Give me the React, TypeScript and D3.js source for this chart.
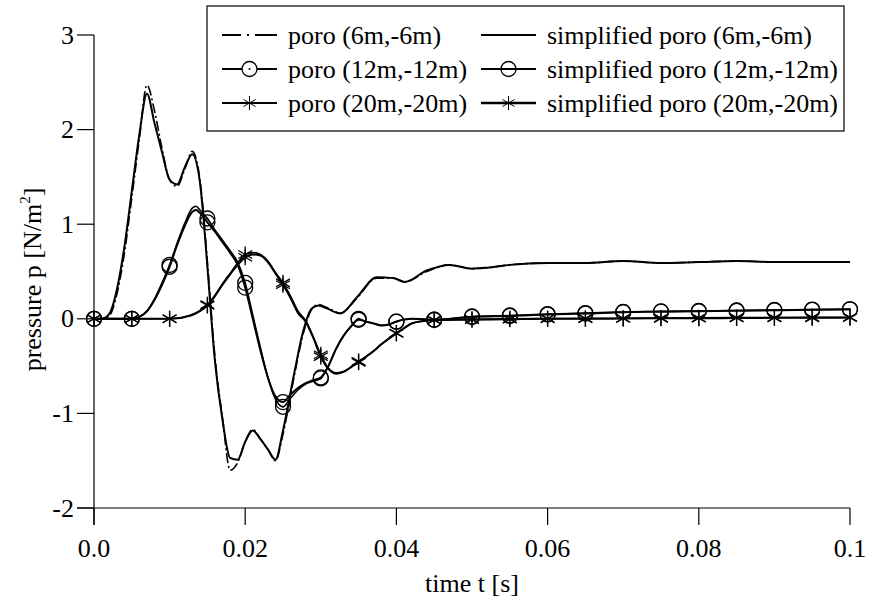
import React from "react";
import * as d3 from "d3";

// ---------- data ----------
const xTicks = [0, 0.02, 0.04, 0.06, 0.08, 0.1];
const xTickLabels = ["0.0", "0.02", "0.04", "0.06", "0.08", "0.1"];
const yTicks = [-2, -1, 0, 1, 2, 3];
const yTickLabels = ["-2", "-1", "0", "1", "2", "3"];

const t6 = [0, 0.001, 0.002, 0.003, 0.004, 0.005, 0.006, 0.007, 0.008, 0.009, 0.010, 0.011, 0.012, 0.013, 0.014, 0.0145,
  0.015, 0.016, 0.017, 0.018, 0.019, 0.020, 0.021, 0.022, 0.023, 0.024, 0.025,
  0.0264, 0.0277, 0.0288, 0.0297, 0.0308, 0.0326, 0.0348, 0.0374, 0.0396, 0.0411, 0.044, 0.047,
  0.050, 0.052, 0.055, 0.060, 0.065, 0.070, 0.075, 0.080, 0.085, 0.090, 0.095, 0.100];
const simplified6 = [0, 0.0, 0.05, 0.3, 0.75, 1.35, 1.95, 2.38, 2.07, 1.76, 1.47, 1.42, 1.6, 1.74, 1.45, 1.05,
  0.55, -0.45, -1.07, -1.47, -1.49, -1.3, -1.18, -1.27, -1.38, -1.49, -1.18,
  -0.61, -0.12, 0.11, 0.14, 0.11, 0.056, 0.23, 0.44, 0.43, 0.39, 0.51, 0.57,
  0.53, 0.54, 0.57, 0.59, 0.59, 0.61, 0.59, 0.60, 0.61, 0.60, 0.60, 0.60];
const poro6 = [0, 0.0, 0.03, 0.25, 0.68, 1.28, 1.9, 2.47, 2.2, 1.8, 1.47, 1.40, 1.58, 1.77, 1.48, 1.1,
  0.6, -0.4, -1.05, -1.6, -1.52, -1.3, -1.17, -1.27, -1.38, -1.5, -1.22,
  -0.64, -0.15, 0.1, 0.15, 0.12, 0.06, 0.22, 0.43, 0.43, 0.39, 0.5, 0.57,
  0.53, 0.54, 0.57, 0.59, 0.59, 0.61, 0.59, 0.60, 0.61, 0.60, 0.60, 0.60];

const t12 = [0, 0.005, 0.006, 0.007, 0.008, 0.009, 0.010, 0.011, 0.012, 0.013, 0.0135, 0.014,
  0.015, 0.016, 0.017, 0.018, 0.019, 0.020, 0.021, 0.022, 0.023, 0.024, 0.025, 0.026, 0.027, 0.028, 0.029,
  0.030, 0.031, 0.032, 0.033, 0.034, 0.035, 0.036, 0.037, 0.038, 0.039, 0.040, 0.042, 0.045,
  0.050, 0.055, 0.060, 0.065, 0.070, 0.075, 0.080, 0.085, 0.090, 0.095, 0.100];
const simplified12 = [0, 0, 0.02, 0.08, 0.2, 0.36, 0.55, 0.78, 0.98, 1.13, 1.15, 1.12,
  1.02, 0.92, 0.81, 0.70, 0.57, 0.33, 0.0, -0.33, -0.62, -0.82, -0.88, -0.80, -0.73, -0.68, -0.65,
  -0.62, -0.50, -0.32, -0.18, -0.08, -0.01, -0.03, -0.05, -0.07, -0.06, -0.03, 0.0, -0.01,
  0.02, 0.03, 0.045, 0.055, 0.07, 0.075, 0.08, 0.085, 0.09, 0.095, 0.1];
const poro12 = [0, 0, 0.02, 0.08, 0.21, 0.38, 0.57, 0.8, 1.01, 1.17, 1.19, 1.15,
  1.06, 0.94, 0.83, 0.72, 0.6, 0.38, 0.04, -0.3, -0.62, -0.85, -0.93, -0.84, -0.75, -0.69, -0.66,
  -0.63, -0.5, -0.32, -0.18, -0.08, -0.0, -0.03, -0.05, -0.07, -0.06, -0.03, 0.0, -0.01,
  0.025, 0.035, 0.05, 0.06, 0.072, 0.078, 0.083, 0.088, 0.093, 0.097, 0.1];

const t20 = [0, 0.005, 0.010, 0.011, 0.012, 0.013, 0.014, 0.015, 0.016, 0.017, 0.018, 0.019, 0.020,
  0.021, 0.022, 0.023, 0.024, 0.025, 0.026, 0.027, 0.028, 0.029, 0.030, 0.031, 0.032, 0.033, 0.034,
  0.035, 0.036, 0.037, 0.038, 0.039, 0.040, 0.041, 0.042, 0.043, 0.045,
  0.050, 0.055, 0.060, 0.065, 0.070, 0.075, 0.080, 0.085, 0.090, 0.095, 0.100];
const simplified20 = [0, 0, 0, 0.005, 0.02, 0.04, 0.08, 0.14, 0.24, 0.36, 0.47, 0.57, 0.65,
  0.68, 0.67, 0.6, 0.48, 0.36, 0.22, 0.06, -0.03, -0.2, -0.40, -0.53, -0.58, -0.56, -0.51,
  -0.46, -0.40, -0.34, -0.27, -0.21, -0.155, -0.10, -0.05, -0.03, -0.015,
  -0.01, -0.005, 0, 0, 0.003, 0.005, 0.006, 0.008, 0.01, 0.01, 0.012];
const poro20 = [0, 0, 0, 0.005, 0.02, 0.045, 0.085, 0.15, 0.25, 0.37, 0.48, 0.59, 0.68,
  0.7, 0.68, 0.61, 0.49, 0.38, 0.24, 0.08, -0.02, -0.19, -0.38, -0.52, -0.57, -0.56, -0.51,
  -0.45, -0.40, -0.34, -0.27, -0.21, -0.15, -0.10, -0.05, -0.03, -0.01,
  -0.005, 0, 0.002, 0.004, 0.006, 0.008, 0.01, 0.012, 0.014, 0.015, 0.016];

const legendLabels = [
  "poro (6m,-6m)", "simplified poro (6m,-6m)",
  "poro (12m,-12m)", "simplified poro (12m,-12m)",
  "poro (20m,-20m)", "simplified poro (20m,-20m)",
];

// ---------- layout ----------
const W = 869, H = 606;
const X0 = 94, X1 = 850, Y0 = 508, Y1 = 35;
const FONT = "Liberation Serif";

type Pt = [number, number];
const zip = (t: number[], v: number[]): Pt[] => t.map((ti, i) => [ti, v[i]]);
const isMarkerT = (t: number) => Math.abs(t / 0.005 - Math.round(t / 0.005)) < 1e-6;

function Circle({ cx, cy, dot, r = 7.5 }: { cx: number; cy: number; dot?: boolean; r?: number }) {
  return (
    <g>
      <circle cx={cx} cy={cy} r={r} fill="none" stroke="#000" strokeWidth={1.3} />
      {dot && <circle cx={cx} cy={cy} r={1} fill="#000" />}
    </g>
  );
}
function Star({ cx, cy, r = 8, w = 1.3 }: { cx: number; cy: number; r?: number; w?: number }) {
  const angs = [90, 30, 150];
  return (
    <g stroke="#000" strokeWidth={w}>
      {angs.map((a) => {
        const dx = r * Math.cos((a * Math.PI) / 180);
        const dy = r * Math.sin((a * Math.PI) / 180);
        return <line key={a} x1={cx - dx} y1={cy - dy} x2={cx + dx} y2={cy + dy} />;
      })}
    </g>
  );
}

export default function App() {
  const x = d3.scaleLinear().domain([0, 0.1]).range([X0, X1]);
  const y = d3.scaleLinear().domain([-2, 3]).range([Y0, Y1]);
  const line = d3
    .line<Pt>()
    .x((d) => x(d[0]))
    .y((d) => y(d[1]))
    .curve(d3.curveMonotoneX);

  const s6 = zip(t6, simplified6), p6 = zip(t6, poro6);
  const s12 = zip(t12, simplified12), p12 = zip(t12, poro12);
  const s20 = zip(t20, simplified20), p20 = zip(t20, poro20);

  const tick = 17;
  const rows = [35, 69, 103];
  const col1 = 222, col2 = 481, sampleW = 55, textGap = 11;

  const legendSample = (idx: number, cx0: number, cy: number) => {
    const mid = cx0 + sampleW / 2;
    if (idx === 0)
      return <line x1={cx0} x2={cx0 + sampleW} y1={cy} y2={cy} stroke="#000" strokeWidth={2} strokeDasharray="19,6,2,6,22" />;
    if (idx === 1)
      return <line x1={cx0} x2={cx0 + sampleW} y1={cy} y2={cy} stroke="#000" strokeWidth={2} />;
    if (idx === 2)
      return (
        <g>
          <line x1={cx0} x2={mid - 7.5} y1={cy} y2={cy} stroke="#000" strokeWidth={2} />
          <line x1={mid + 7.5} x2={cx0 + sampleW} y1={cy} y2={cy} stroke="#000" strokeWidth={2} />
          <Circle cx={mid} cy={cy} dot />
        </g>
      );
    if (idx === 3)
      return (
        <g>
          <line x1={cx0} x2={cx0 + sampleW} y1={cy} y2={cy} stroke="#000" strokeWidth={2} />
          <Circle cx={mid} cy={cy} />
        </g>
      );
    if (idx === 4)
      return (
        <g>
          <line x1={cx0} x2={cx0 + sampleW} y1={cy} y2={cy} stroke="#000" strokeWidth={2.2} />
          <Star cx={mid} cy={cy} r={7} w={1} />
        </g>
      );
    return (
      <g>
        <line x1={cx0} x2={cx0 + sampleW} y1={cy} y2={cy} stroke="#000" strokeWidth={2.6} />
        <Star cx={mid} cy={cy} r={7} w={1} />
      </g>
    );
  };

  return (
    <svg width={W} height={H} style={{ position: "absolute", left: 0, top: 0, background: "#fff" }}>
      <rect x={0} y={0} width={W} height={H} fill="#fff" />
      {/* axes */}
      <g stroke="#000" strokeWidth={1.2}>
        <line x1={X0} x2={X0} y1={Y1} y2={Y0 + tick} />
        <line x1={X0 - tick} x2={X1} y1={Y0} y2={Y0} />
        {yTicks.map((v) => (
          <line key={v} x1={X0 - tick} x2={X0} y1={y(v)} y2={y(v)} />
        ))}
        {xTicks.map((v) => (
          <line key={v} x1={x(v)} x2={x(v)} y1={Y0} y2={Y0 + tick} />
        ))}
      </g>
      <g fill="#000">
        {yTicks.map((v, i) => (
          <text key={v} x={X0 - tick - 3} y={y(v)} dy="0.33em" textAnchor="end" fontFamily={FONT} fontSize={26}>{yTickLabels[i]}</text>
        ))}
        {xTicks.map((v, i) => (
          <text key={v} x={x(v)} y={Y0 + tick + 23} dy="0.33em" textAnchor="middle" fontFamily={FONT} fontSize={26}>{xTickLabels[i]}</text>
        ))}
        <text x={(X0 + X1) / 2} y={583} dy="0.33em" textAnchor="middle" fontFamily={FONT} fontSize={26}>time t [s]</text>
        <text transform={`translate(32,${(Y0 + Y1) / 2 + 8}) rotate(-90)`} textAnchor="middle" dy="0.33em" fontFamily={FONT} fontSize={26}>
          pressure p [N/m<tspan fontSize={15} dy="-11">2</tspan><tspan dy="11">]</tspan>
        </text>
      </g>

      {/* curves */}
      <g fill="none" stroke="#000">
        <path d={line(s6) || ""} strokeWidth={2} />
        <path d={line(p6) || ""} strokeWidth={1.6} strokeDasharray="10,3,2,3" />
        <path d={line(s12) || ""} strokeWidth={2} />
        <path d={line(p12) || ""} strokeWidth={1.6} />
        <path d={line(s20) || ""} strokeWidth={2} />
        <path d={line(p20) || ""} strokeWidth={1.6} />
      </g>
      {/* markers */}
      {p12.filter((d) => isMarkerT(d[0])).map((d, i) => (
        <Circle key={"pc" + i} cx={x(d[0])} cy={y(d[1])} dot />
      ))}
      {s12.filter((d) => isMarkerT(d[0])).map((d, i) => (
        <Circle key={"sc" + i} cx={x(d[0])} cy={y(d[1])} />
      ))}
      {p20.filter((d) => isMarkerT(d[0])).map((d, i) => (
        <Star key={"ps" + i} cx={x(d[0])} cy={y(d[1])} />
      ))}
      {s20.filter((d) => isMarkerT(d[0])).map((d, i) => (
        <Star key={"ss" + i} cx={x(d[0])} cy={y(d[1])} />
      ))}

      {/* legend */}
      <rect x={207} y={6} width={637} height={125} fill="#fff" stroke="#000" strokeWidth={1.2} />
      {legendLabels.map((lab, i) => {
        const r = Math.floor(i / 2);
        const cx0 = i % 2 === 0 ? col1 : col2;
        const cy = rows[r];
        return (
          <g key={lab}>
            {legendSample(i, cx0, cy)}
            <text x={cx0 + sampleW + textGap} y={cy} dy="0.33em" fontFamily={FONT} fontSize={26}>{lab}</text>
          </g>
        );
      })}
    </svg>
  );
}
